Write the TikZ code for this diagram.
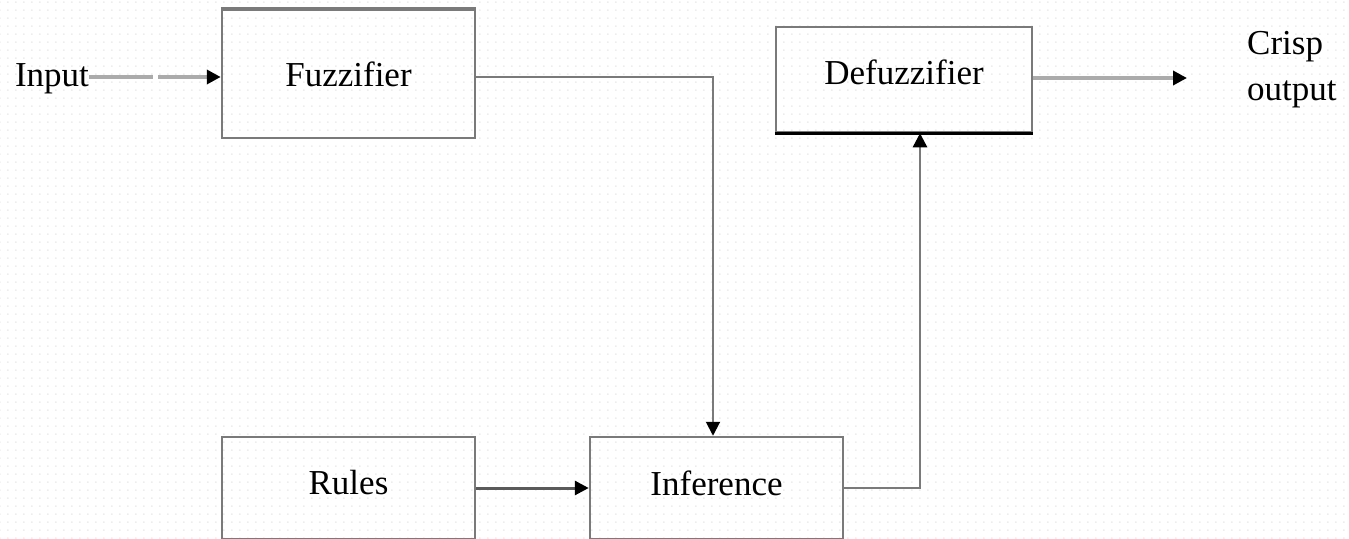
\documentclass[tikz,border=0pt]{standalone}
\usepackage{fontspec}
\setmainfont{Liberation Serif}
\usetikzlibrary{arrows.meta,patterns.meta}
\definecolor{boxgray}{HTML}{7A7A7A}
\definecolor{lightline}{HTML}{ABABAB}
\definecolor{darkline}{HTML}{5A5A5A}
\definecolor{dotgray}{HTML}{EDEDED}
\tikzdeclarepattern{name=bgdots, type=uncolored, bounding box={(0pt,0pt) and (8pt,8pt)}, tile size={(8pt,8pt)}, code={\fill (0pt,0pt) rectangle (1.8pt,1.8pt);}}
\begin{document}
\begin{tikzpicture}[x=1pt,y=-1pt,
  font=\fontsize{35}{40}\selectfont,
  box/.style={draw=boxgray, line width=2.5pt, inner sep=0pt, minimum width=253pt},
  lbl/.style={inner sep=0pt},
  tip/.style={-{Triangle[length=14pt,width=14pt,color=black]}},
  conn/.style={draw=boxgray, line width=2pt},
]
\useasboundingbox (0,0) rectangle (1349,538);
\fill[pattern=bgdots, pattern color=dotgray] (0,0) rectangle (1349,538);

% boxes
\node[box, minimum height=128pt] (fuzz) at (348.5,74) {Fuzzifier};
\node[box, minimum width=256pt, minimum height=105pt] (defuzz) at (904,79.5) {};
\node[lbl] (defuzztext) at (904,72) {Defuzzifier};
\node[box, minimum height=102pt] (rules) at (348.5,488) {};
\node[lbl] (rulestext) at (348.5,483) {Rules};
\node[box, minimum height=102pt] (inf) at (716.5,488) {};
\node[lbl] (inftext) at (716.5,483) {Inference};

% emphasised edges
\draw[boxgray, line width=4.5pt] (fuzz.north west) -- (fuzz.north east);
\draw[black, line width=3pt] (defuzz.south west) -- (defuzz.south east);

% texts
\node[lbl] (input) at (52,79) {Input};
\node[lbl, anchor=west, align=left, font=\fontsize{35}{46}\selectfont] (crisp) at (1247,70) {Crisp\\output};
\coordinate (outend) at (1187,78);

% connectors
\draw[tip, draw=lightline, line width=4pt, dash pattern=on 64pt off 5pt]
  (input.east |- 0,77) -- ([yshift=-3pt]fuzz.west);
\draw[tip, draw=lightline, line width=4pt] ([yshift=1.5pt]defuzz.east) -- (outend);
\draw[tip, conn] ([yshift=-3pt]fuzz.east) -| ([xshift=-3.5pt]inf.north);
\draw[tip, draw=darkline, line width=3pt] (rules.east) -- (inf.west);
\draw[tip, conn, line width=2.5pt] (inf.east) -| ([xshift=16pt]defuzz.south);
\end{tikzpicture}
\end{document}
